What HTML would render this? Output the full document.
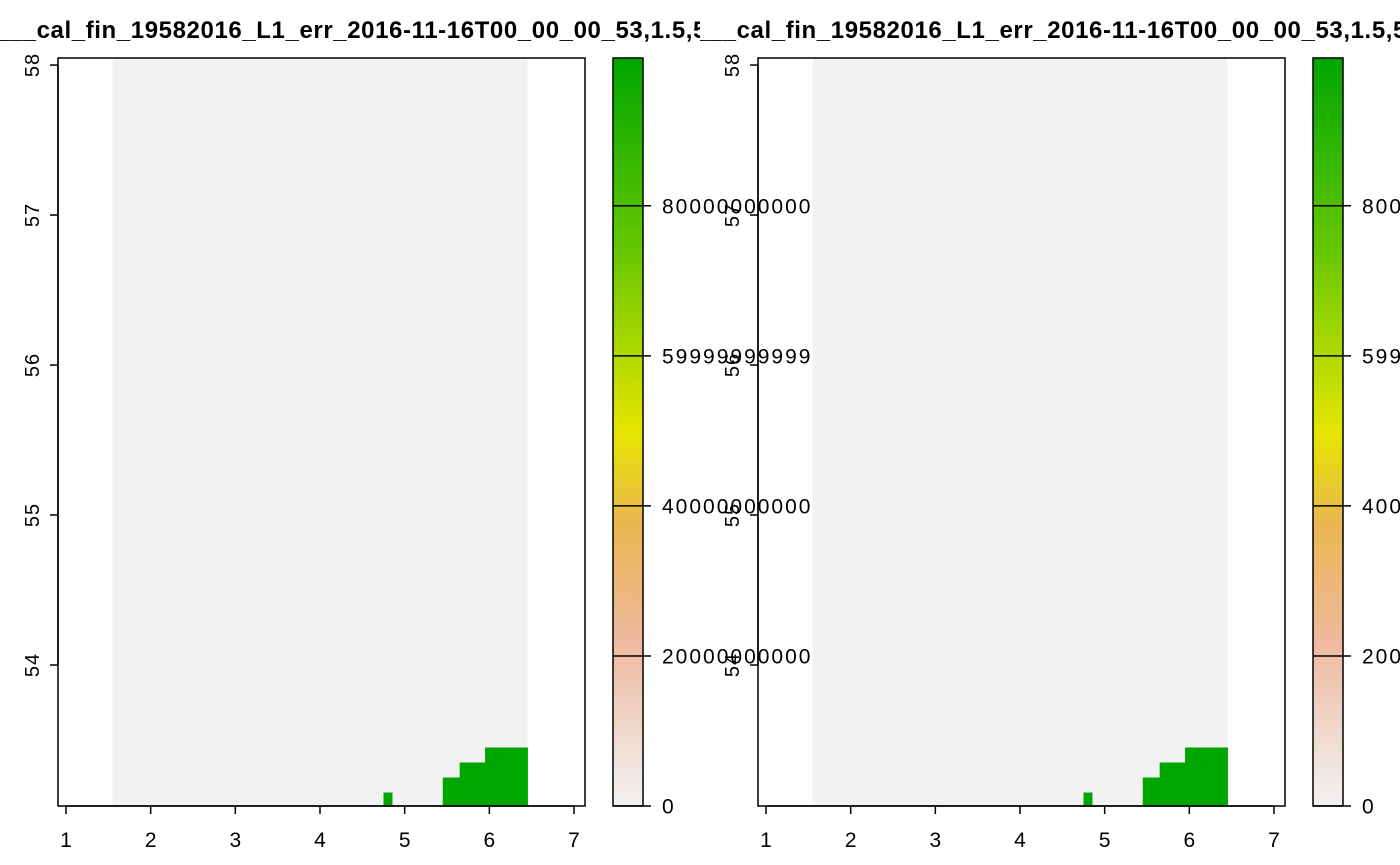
<!DOCTYPE html>
<html><head><meta charset="utf-8"><style>
html,body{margin:0;padding:0;background:#fff;}
svg{display:block;font-family:"Liberation Sans",Arial,sans-serif;}
</style></head><body>
<svg id="chart" width="1400" height="865" viewBox="0 0 1400 865" xmlns="http://www.w3.org/2000/svg">
<defs>
<linearGradient id="terrain" x1="0" y1="1" x2="0" y2="0">
<stop offset="0" stop-color="#F2F2F2"/>
<stop offset="0.22" stop-color="#EEB99F"/>
<stop offset="0.38" stop-color="#EAB64E"/>
<stop offset="0.5" stop-color="#E6E600"/>
<stop offset="0.75" stop-color="#63C600"/>
<stop offset="1" stop-color="#00A600"/>
</linearGradient>
<clipPath id="clip0"><rect x="0" y="0" width="700" height="865"/></clipPath>
<clipPath id="clip1"><rect x="700" y="0" width="700" height="865"/></clipPath>
</defs>
</svg>
<script>
const xTicks = [1,2,3,4,5,6,7];
const yTicks = [54,55,56,57,58];
const rasterX = [1.55, 6.45];
const rasterY = [53.05, 58.05];
const cellCols = [4.8, 5.5, 5.6, 5.7, 5.8, 5.9, 6.0, 6.1, 6.2, 6.3, 6.4];
const cellCounts = [1, 2, 2, 3, 3, 3, 4, 4, 4, 4, 4];
const cellSize = 0.1;
const legendTicks = [0, 200000000000, 400000000000, 600000000000, 800000000000];
const legendLabels = ["0","20000000000000","40000000000000","59999999999999","80000000000000"];
const legendMax = 997000000000;
const titleText = "___cal_fin_19582016_L1_err_2016-11-16T00_00_00_53,1.5,5";

const NS = "http://www.w3.org/2000/svg";
const svg = document.getElementById('chart');
function mk(tag, attrs, parent){const e=document.createElementNS(NS,tag);for(const k in attrs)e.setAttribute(k,attrs[k]);(parent||svg).appendChild(e);return e;}

function panel(off, idx){
  const g = mk('g',{});
  
  
  const L=58+off, R=585+off, T=58, B=806;
  const xmin=0.9055, xmax=7.13, ymin=53.06, ymax=58.047;
  const sx=v=>L+(v-xmin)/(xmax-xmin)*(R-L);
  const sy=v=>B-(v-ymin)/(ymax-ymin)*(B-T);
  const bg = mk('rect',{x:sx(rasterX[0]),y:T,width:sx(rasterX[1])-sx(rasterX[0]),height:B-T,fill:'#F2F2F2'},g);
  
  
  cellCols.forEach((c,i)=>{
    const top = rasterY[0]+cellCounts[i]*cellSize;
    const r = mk('rect',{x:sx(c-cellSize/2),y:sy(top),width:sx(c+cellSize/2)-sx(c-cellSize/2)+0.5,height:B-sy(top),fill:'#00A600'},g);
    
    
  });
  const box = mk('rect',{x:L,y:T,width:R-L,height:B-T,fill:'none',stroke:'#000','stroke-width':1.5},g);
  
  
  mk('line',{x1:sx(xTicks[0]),x2:sx(xTicks[xTicks.length-1]),y1:B,y2:B,stroke:'#000','stroke-width':1.5},g);
  xTicks.forEach(t=>{
    mk('line',{x1:sx(t),x2:sx(t),y1:B,y2:B+8,stroke:'#000','stroke-width':1.5},g);
    const tx = mk('text',{x:sx(t),y:847,'font-size':21,'text-anchor':'middle'},g);
    tx.textContent=t;
    
    
  });
  mk('line',{x1:L,x2:L,y1:sy(yTicks[0]),y2:sy(yTicks[yTicks.length-1]),stroke:'#000','stroke-width':1.5},g);
  yTicks.forEach(t=>{
    mk('line',{x1:L-8,x2:L,y1:sy(t),y2:sy(t),stroke:'#000','stroke-width':1.5},g);
    const tx = mk('text',{x:0,y:0,'font-size':20,'letter-spacing':1,'text-anchor':'middle',transform:`translate(${L-19},${sy(t)}) rotate(-90)`},g);
    tx.textContent=t;
    
    
  });
  const CL=613+off, CR=643+off;
  const ly=v=>B-v/legendMax*(B-T);
  const cb = mk('rect',{x:CL,y:T,width:CR-CL,height:B-T,fill:'url(#terrain)',stroke:'#000','stroke-width':1.5},g);
  
  
  legendTicks.forEach((t,i)=>{
    mk('line',{x1:CL,x2:CR+8,y1:ly(t),y2:ly(t),stroke:'#000','stroke-width':1.5},g);
    const tx = mk('text',{x:CR+19,y:ly(t)+7.5,'font-size':21,'letter-spacing':2},g);
    tx.textContent=legendLabels[i];
    
    
  });
  const tg = mk('g',{'clip-path':`url(#clip${idx-1})`},g);
  const ti = mk('text',{x:off+707,y:38,'font-size':24,'letter-spacing':0.6,'font-weight':'bold','text-anchor':'end'},tg);
  ti.textContent=titleText;
  
  
}
panel(0,1);
panel(700,2);
</script>
</body></html>
